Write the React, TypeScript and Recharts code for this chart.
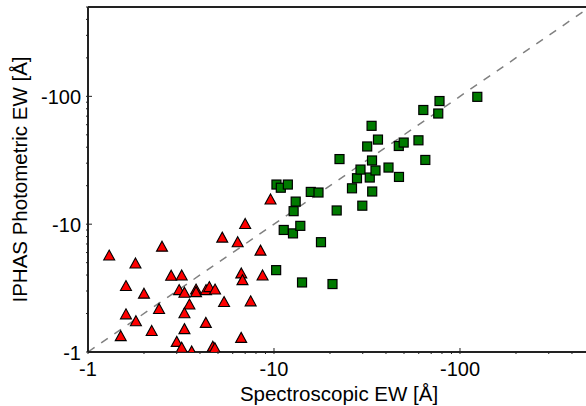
import { ScatterChart, Scatter, XAxis, YAxis, ReferenceLine } from 'recharts';

// |EW| values, plotted on log axes and labelled with a minus sign
const triangleX = [1.3, 1.8, 2.5, 1.6, 2.0, 1.6, 1.81, 1.5, 2.2, 2.41, 2.8, 3.19, 3.09, 3.3, 3.51, 3.3, 3.3, 3.0, 3.19, 3.61, 3.81, 3.81, 4.31, 4.49, 4.82, 4.3, 4.69, 4.81, 5.27, 5.39, 6.38, 7.0, 6.67, 6.77, 7.49, 6.66, 8.46, 8.68, 9.58];
const triangleY = [5.68, 4.93, 6.67, 3.28, 2.86, 1.97, 1.74, 1.33, 1.46, 2.17, 3.95, 3.97, 3.05, 2.91, 2.35, 2.01, 1.51, 1.2, 1.08, 1.01, 3.08, 2.94, 3.05, 3.22, 3.08, 1.69, 1.1, 1.07, 7.85, 2.46, 7.23, 10.04, 4.12, 3.65, 2.49, 1.29, 6.21, 3.97, 15.6];

const squareX = [10.31, 10.88, 11.87, 13.08, 12.75, 15.77, 17.35, 11.28, 12.65, 13.85, 17.89, 10.27, 14.15, 20.63, 21.73, 22.5, 26.26, 29.84, 27.94, 29.18, 33.65, 32.73, 33.73, 35.13, 31.7, 36.23, 33.47, 41.27, 46.99, 46.88, 49.8, 59.8, 65.1, 63.5, 76.4, 77.6, 123.9];
const squareY = [20.42, 19.28, 20.42, 15.02, 12.64, 17.88, 17.69, 9.01, 8.47, 9.7, 7.23, 4.37, 3.5, 3.4, 12.8, 32.3, 19.08, 13.95, 22.88, 26.74, 31.5, 23.17, 18.01, 26.31, 40.54, 45.9, 58.8, 27.73, 23.42, 40.9, 43.5, 45.3, 31.8, 78.2, 73.4, 91.9, 99.1];

const majorTicks = [1, 10, 100];
const allTicks = [1, 2, 3, 4, 5, 6, 7, 8, 9, 10, 20, 30, 40, 50, 60, 70, 80, 90, 100, 200, 300, 400, 500];
const domain = [1, 500];

const FONT = '"Liberation Sans", Arial, Helvetica, sans-serif';
const AXIS = '#222';

const triangles = triangleX.map((x, i) => ({ x, y: triangleY[i] }));
const squares = squareX.map((x, i) => ({ x, y: squareY[i] }));

const isMajor = (v: number) => majorTicks.includes(v);
const tickLen = (v: number) => (isMajor(v) ? 6 : 3);

function BottomTick({ x, y, payload }: any) {
  const v = payload.value;
  return (
    <g>
      <line x1={x} y1={y} x2={x} y2={y - tickLen(v)} stroke={AXIS} strokeWidth={1} />
      {isMajor(v) && (
        <text x={x} y={y + 22} textAnchor="middle" fontSize={20} fontFamily={FONT} fill="#000">
          {'-' + v}
        </text>
      )}
    </g>
  );
}

function TopTick({ x, y, payload }: any) {
  const v = payload.value;
  return <line x1={x} y1={y} x2={x} y2={y + tickLen(v)} stroke={AXIS} strokeWidth={1} />;
}

function LeftTick({ x, y, payload }: any) {
  const v = payload.value;
  return (
    <g>
      <line x1={x} y1={y} x2={x + tickLen(v)} y2={y} stroke={AXIS} strokeWidth={1} />
      {isMajor(v) && (
        <text x={x - 5} y={y + 8} textAnchor="end" fontSize={20} fontFamily={FONT} fill="#000">
          {'-' + v}
        </text>
      )}
    </g>
  );
}

function RightTick({ x, y, payload }: any) {
  const v = payload.value;
  return <line x1={x} y1={y} x2={x - tickLen(v)} y2={y} stroke={AXIS} strokeWidth={1} />;
}

function Triangle({ cx, cy }: any) {
  if (cx == null || cy == null) return null;
  const pts = `${cx},${cy - 5.5} ${cx + 5.5},${cy + 4.5} ${cx - 5.5},${cy + 4.5}`;
  return <polygon points={pts} fill="#ff0000" stroke="#000" strokeWidth={1.1} strokeLinejoin="miter" />;
}

function Square({ cx, cy }: any) {
  if (cx == null || cy == null) return null;
  return <rect x={cx - 4.5} y={cy - 4.5} width={9} height={9} fill="#007a00" stroke="#000" strokeWidth={1.2} />;
}

function XLabel({ viewBox }: any) {
  const cx = viewBox.x + viewBox.width / 2;
  return (
    <text x={cx} y={401} textAnchor="middle" fontSize={20.5} fontFamily={FONT} fill="#000">
      Spectroscopic EW [Å]
    </text>
  );
}

function YLabel({ viewBox }: any) {
  const cy = viewBox.y + viewBox.height / 2;
  return (
    <text x={27} y={cy} textAnchor="middle" fontSize={20.5} fontFamily={FONT} fill="#000" transform={`rotate(-90, 27, ${cy})`}>
      IPHAS Photometric EW [Å]
    </text>
  );
}

export default function App() {
  return (
    <div style={{ position: 'fixed', left: 0, top: 0, width: 586, height: 406, overflow: 'hidden', background: '#fff' }}>
      <ScatterChart width={600} height={406} margin={{ top: 0, right: 0, bottom: 0, left: 0 }}>
        <XAxis
          xAxisId="x"
          dataKey="x"
          type="number"
          scale="log"
          domain={domain}
          allowDataOverflow
          ticks={allTicks}
          interval={0}
          tickSize={0}
          tickLine={false}
          tick={BottomTick}
          axisLine={{ stroke: AXIS, strokeWidth: 2 }}
          height={54}
          label={{ content: XLabel }}
        />
        <XAxis
          xAxisId="xt"
          orientation="top"
          type="number"
          scale="log"
          domain={domain}
          allowDataOverflow
          ticks={allTicks}
          interval={0}
          tickSize={0}
          tickLine={false}
          tick={TopTick}
          axisLine={{ stroke: AXIS, strokeWidth: 2 }}
          height={7}
        />
        <YAxis
          yAxisId="y"
          dataKey="y"
          type="number"
          scale="log"
          domain={domain}
          allowDataOverflow
          ticks={allTicks}
          interval={0}
          tickSize={0}
          tickLine={false}
          tick={LeftTick}
          axisLine={{ stroke: AXIS, strokeWidth: 2 }}
          width={88}
          label={{ content: YLabel }}
        />
        <YAxis
          yAxisId="yr"
          orientation="right"
          type="number"
          scale="log"
          domain={domain}
          allowDataOverflow
          ticks={allTicks}
          interval={0}
          tickSize={0}
          tickLine={false}
          tick={RightTick}
          axisLine={{ stroke: AXIS, strokeWidth: 2 }}
          width={10}
        />
        <ReferenceLine
          xAxisId="x"
          yAxisId="y"
          segment={[{ x: 1, y: 1 }, { x: 500, y: 500 }]}
          stroke="#808080"
          strokeWidth={1.5}
          strokeDasharray="8 8"
        />
        <Scatter xAxisId="x" yAxisId="y" data={triangles} shape={Triangle} isAnimationActive={false} />
        <Scatter xAxisId="x" yAxisId="y" data={squares} shape={Square} isAnimationActive={false} />
      </ScatterChart>
    </div>
  );
}
